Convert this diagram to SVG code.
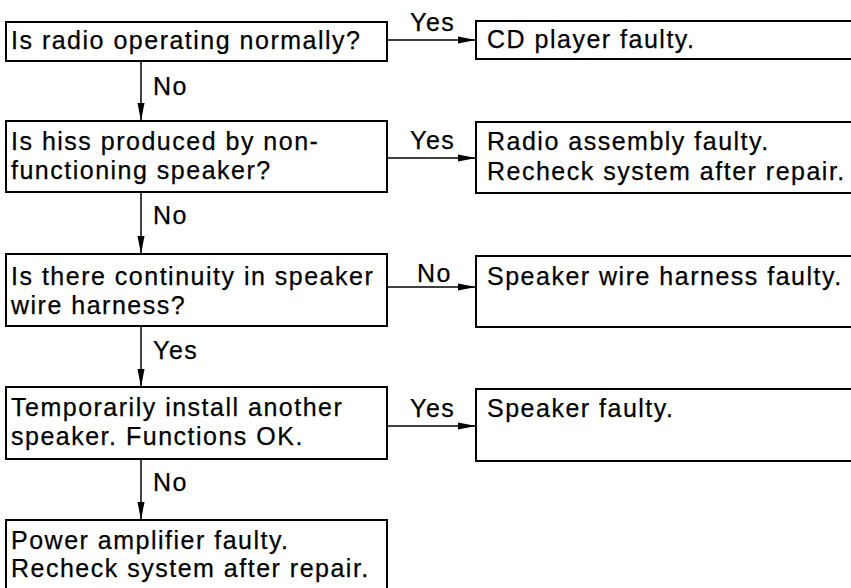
<svg xmlns="http://www.w3.org/2000/svg" width="851" height="588" viewBox="0 0 851 588">
<style>
.box{fill:#fff;stroke:#000;stroke-width:2}
.t{font-family:"Liberation Sans",Arial,sans-serif;font-size:25px;fill:#000;stroke:#000;stroke-width:0.25;letter-spacing:1.5px}
.c{stroke:#000;stroke-width:1.5;fill:none;marker-end:url(#ah)}
</style>
<defs>
<marker id="ah" markerWidth="18" markerHeight="8" refX="18" refY="4" orient="auto" markerUnits="userSpaceOnUse">
<path d="M0,0.5 L18,4 L0,7.5 Z" fill="#000"/>
</marker>
</defs>
<rect width="851" height="588" fill="#fff"/>
<g id="connectors">
<line class="c" x1="387" y1="40" x2="476" y2="40"/>
<line class="c" x1="141" y1="61" x2="141" y2="121"/>
<line class="c" x1="387" y1="158" x2="476" y2="158"/>
<line class="c" x1="141" y1="192" x2="141" y2="254"/>
<line class="c" x1="387" y1="287" x2="476" y2="287"/>
<line class="c" x1="141" y1="326" x2="141" y2="387"/>
<line class="c" x1="387" y1="426" x2="476" y2="426"/>
<line class="c" x1="141" y1="459" x2="141" y2="520"/>
<text class="t" x="410" y="31">Yes</text>
<text class="t" x="153" y="95">No</text>
<text class="t" x="410" y="149">Yes</text>
<text class="t" x="153" y="224">No</text>
<text class="t" x="417" y="282">No</text>
<text class="t" x="153" y="359">Yes</text>
<text class="t" x="410" y="417">Yes</text>
<text class="t" x="153" y="491">No</text>
</g>
<g id="q1"><rect class="box" x="6" y="22" width="381" height="39"/><text class="t" x="11" y="49">Is radio operating normally?</text></g>
<g id="r1"><rect class="box" x="476" y="21" width="390" height="38"/><text class="t" x="487" y="48">CD player faulty.</text></g>
<g id="q2"><rect class="box" x="6" y="121" width="381" height="71"/><text class="t" x="11" y="150">Is hiss produced by non-</text><text class="t" x="11" y="179">functioning speaker?</text></g>
<g id="r2"><rect class="box" x="476" y="122" width="390" height="71"/><text class="t" x="487" y="150">Radio assembly faulty.</text><text class="t" x="487" y="180">Recheck system after repair.</text></g>
<g id="q3"><rect class="box" x="6" y="254" width="381" height="72"/><text class="t" x="11" y="285">Is there continuity in speaker</text><text class="t" x="11" y="314">wire harness?</text></g>
<g id="r3"><rect class="box" x="476" y="256" width="390" height="71"/><text class="t" x="487" y="285">Speaker wire harness faulty.</text></g>
<g id="q4"><rect class="box" x="6" y="387" width="381" height="72"/><text class="t" x="11" y="416">Temporarily install another</text><text class="t" x="11" y="445">speaker. Functions OK.</text></g>
<g id="r4"><rect class="box" x="476" y="389" width="390" height="72"/><text class="t" x="487" y="417">Speaker faulty.</text></g>
<g id="r5"><rect class="box" x="6" y="520" width="381" height="70"/><text class="t" x="11" y="549">Power amplifier faulty.</text><text class="t" x="11" y="577">Recheck system after repair.</text></g>
</svg>
